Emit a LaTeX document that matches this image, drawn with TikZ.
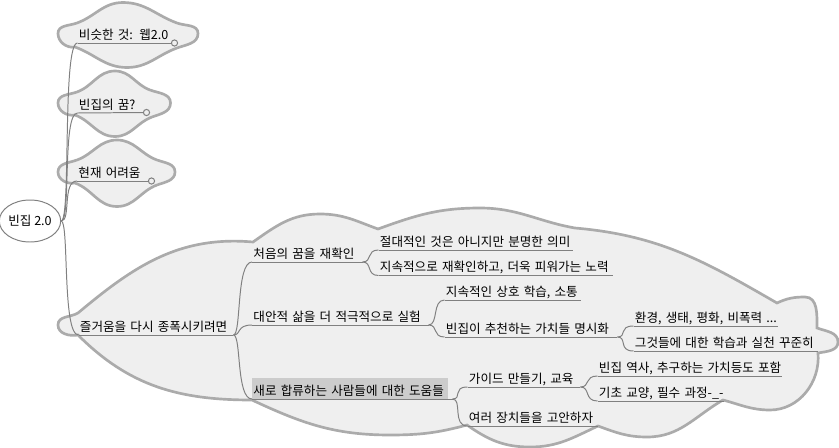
\documentclass[tikz,border=0pt]{standalone}
\usepackage{fontspec}
\setmainfont{Noto Sans CJK KR}
\usepackage{xcolor}
\usetikzlibrary{shapes.geometric}
\definecolor{cloudfill}{HTML}{EFEFEF}
\definecolor{cloudline}{HTML}{ABABAB}
\definecolor{connline}{HTML}{808080}
\definecolor{pickfill}{HTML}{CCCCCC}
\tikzset{
	bubble/.style={draw=cloudline,fill=cloudfill,line width=1.9pt},
	conn/.style={draw=connline,line width=0.7pt},
	topic/.style={anchor=south west,inner xsep=0.03cm,inner ysep=0.4pt,text depth=2.2pt,text height=8pt,align=left,text width=#1,
		execute at begin node={\setbox0=\hbox\bgroup},execute at end node={\egroup\wd0=0pt\noindent\box0}},
	foldmark/.style={circle,draw=connline,fill=cloudfill,line width=0.7pt,inner sep=0pt,minimum size=4.4pt},
	every node/.append style={font=\fontsize{8.95}{11}\selectfont}
}
\begin{document}
\begin{tikzpicture}[scale=0.25]
	\useasboundingbox (0,0) rectangle (83.9,-44.8);
	% clouds
	\draw [bubble] (7.5,-4.7) to[out=190,in=270] (5.8,-3.35) to[out=90,in=200] (7.7,-2.3) to[out=20,in=180] (12.3,-0.25) to[out=0,in=160] (17.7,-2.3) to[out=-20,in=90] (19.8,-3.35) to[out=270,in=20] (17.7,-4.8) to[out=200,in=0] (12.7,-6.75) to[out=180,in=-20] cycle;
	\draw [bubble] (7.5,-11.5) to[out=190,in=270] (5.8,-10.3) to[out=90,in=200] (7.7,-9.2) to[out=20,in=180] (11.5,-7.1) to[out=0,in=160] (15,-9) to[out=-20,in=90] (17.05,-10.3) to[out=270,in=20] (15.2,-11.7) to[out=200,in=0] (11.5,-13.65) to[out=180,in=-20] cycle;
	\draw [bubble] (7.5,-18.3) to[out=190,in=270] (5.8,-17.2) to[out=90,in=200] (7.7,-16) to[out=20,in=180] (11.7,-14) to[out=0,in=160] (15.7,-16) to[out=-20,in=90] (17.5,-17.2) to[out=270,in=20] (15.7,-18.5) to[out=200,in=0] (11.7,-20.65) to[out=180,in=-20] cycle;
	\draw [bubble] (7.8,-33.5) to[out=190,in=270] (5.8,-32.5) to[out=90,in=210] (7.8,-31.3) to[out=40,in=175] (25.3,-24.2)
		to[out=35,in=180] (32,-21.4) to[out=0,in=160] (37.8,-22.9) to[out=20,in=180] (48,-20.8) to[out=0,in=170] (57.5,-22.8)
		to[out=-5,in=150] (77.7,-30.3) to[out=25,in=180] (80.5,-29.7) to[out=0,in=90] (81.7,-32.8) to[out=-20,in=90] (83.8,-34.2)
		to[out=270,in=10] (81.8,-35.3) to[out=-85,in=0] (77,-41) to[out=180,in=-15] (72.3,-40) to[out=-150,in=0] (64.7,-43.7)
		to[out=180,in=-20] (59.8,-42.6) to[out=-155,in=0] (53,-44.7) to[out=180,in=-35] (46.7,-42.5) to[out=-165,in=0] (39,-43.5)
		to[out=180,in=-25] (25.2,-40) to[out=180,in=-45] cycle;
	\fill [pickfill] (25.2,-37.8) rectangle (44.8,-39.9);
	% topics
	\node [draw=connline,fill=white,ellipse,minimum width=1.45cm,minimum height=1.05cm,inner sep=0pt,line width=0.7pt] (root) at (3,-22.1) {빈집 2.0};
	\node [topic=2.3cm] (similar) at (7.75,-4.3) {비슷한 것: 웹2.0};
	\node [foldmark] (similarmark) at (17.45,-4.3) {};
	\node [topic=1.6cm] (dream) at (7.75,-11.3) {빈집의 꿈?};
	\node [foldmark] (dreammark) at (14.65,-11.25) {};
	\node [topic=1.8cm] (trouble) at (7.7,-18.1) {현재 어려움};
	\node [foldmark] (troublemark) at (15.15,-18.1) {};
	\node [topic=3.8cm] (joy) at (7.85,-33.5) {즐거움을 다시 종폭시키려면};
	\node [topic=2.69cm] (recheck) at (25.2,-26.2) {처음의 꿈을 재확인};
	\node [topic=4.34cm] (trial) at (25.2,-32.5) {대안적 삶을 더 적극적으로 실험};
	\node [topic=4.94cm] (newcomer) at (25.2,-39.9) {새로 합류하는 사람들에 대한 도움들};
	\node [topic=4.8cm] (meaning) at (37.85,-25) {절대적인 것은 아니지만 분명한 의미};
	\node [topic=5.8cm] (effort) at (37.85,-27.55) {지속적으로 재확인하고, 더욱 피워가는 노력};
	\node [topic=3.33cm] (talk) at (44.45,-30) {지속적인 상호 학습, 소통};
	\node [topic=4.25cm] (values) at (44.45,-33.7) {빈집이 추천하는 가치들 명시화};
	\node [topic=3.55cm] (ecology) at (63.35,-32.6) {환경, 생태, 평화, 비폭력 ...};
	\node [topic=4.55cm] (practice) at (63.35,-35.1) {그것들에 대한 학습과 실천 꾸준히};
	\node [topic=2.75cm] (guide) at (46.75,-38.7) {가이드 만들기, 교육};
	\node [topic=3.2cm] (device) at (46.75,-42.6) {여러 장치들을 고안하자};
	\node [topic=4.55cm] (history) at (59.75,-37.6) {빈집 역사, 추구하는 가치등도 포함};
	\node [topic=3.08cm] (basics) at (59.75,-40.1) {기초 교양, 필수 과정-\_-};
	% underlines
	\foreach \topicname in {joy,recheck,trial,newcomer,meaning,effort,talk,values,ecology,practice,guide,device,history,basics}
		\draw [conn] (\topicname.south west) -- (\topicname.south east);
	\draw [conn] (similar.south west) -- (similarmark);
	\draw [conn] (dream.south west) -- (dreammark);
	\draw [conn] (trouble.south west) -- (troublemark);
	% branches
	\draw [conn] (root.east) .. controls +(1,0) and (6.2,-4.3) .. (similar.south west);
	\draw [conn] (root.east) .. controls +(1,0) and (6.2,-11.3) .. (dream.south west);
	\draw [conn] (root.east) .. controls +(1,0) and (6.2,-18.1) .. (trouble.south west);
	\draw [conn] (root.east) .. controls +(0.8,0) and (6.2,-33.5) .. (joy.south west);
	\draw [conn] (joy.south east) .. controls +(0.8,0) and (23.6,-26.2) .. (recheck.south west);
	\draw [conn] (joy.south east) .. controls +(0.8,0) and (23.6,-32.5) .. (trial.south west);
	\draw [conn] (joy.south east) .. controls +(0.8,0) and (23.6,-39.9) .. (newcomer.south west);
	\draw [conn] (recheck.south east) .. controls +(1,0) and (36.6,-25) .. (meaning.south west);
	\draw [conn] (recheck.south east) .. controls +(1,0) and (36.6,-27.55) .. (effort.south west);
	\draw [conn] (trial.south east) .. controls +(1,0) and (43.2,-30) .. (talk.south west);
	\draw [conn] (trial.south east) .. controls +(1,0) and (43.2,-33.7) .. (values.south west);
	\draw [conn] (values.south east) .. controls +(1,0) and (61.8,-32.6) .. (ecology.south west);
	\draw [conn] (values.south east) .. controls +(1,0) and (61.8,-35.1) .. (practice.south west);
	\draw [conn] (newcomer.south east) .. controls +(1,0) and (45.2,-38.7) .. (guide.south west);
	\draw [conn] (newcomer.south east) .. controls +(1,0) and (45.2,-42.6) .. (device.south west);
	\draw [conn] (guide.south east) .. controls +(1,0) and (58.4,-37.6) .. (history.south west);
	\draw [conn] (guide.south east) .. controls +(1,0) and (58.4,-40.1) .. (basics.south west);
\end{tikzpicture}
\end{document}
